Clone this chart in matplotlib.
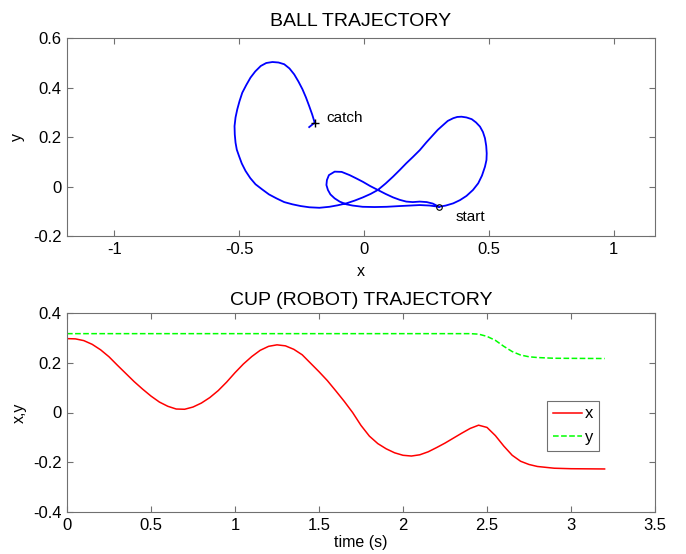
import matplotlib
matplotlib.use('Agg')
import matplotlib.pyplot as plt
from matplotlib.ticker import FuncFormatter

plt.rcParams['font.family'] = ['Liberation Sans', 'DejaVu Sans']
plt.rcParams['axes.unicode_minus'] = False

## --- Data
# Ball path (x, y), from start to catch
ball_x = [0.300, 0.263, 0.223, 0.183, 0.143, 0.090, 0.042, -0.006, -0.046, -0.071,
          -0.098, -0.118, -0.135, -0.145, -0.151, -0.149, -0.141, -0.118, -0.090, -0.058,
          -0.030, -0.005, 0.024, 0.055, 0.086, 0.116, 0.143, 0.169, 0.195, 0.223,
          0.251, 0.275, 0.300, 0.327, 0.357, 0.384, 0.410, 0.436, 0.457, 0.472,
          0.484, 0.490, 0.491, 0.489, 0.484, 0.476, 0.464, 0.448, 0.431, 0.410,
          0.390, 0.373, 0.357, 0.335, 0.316, 0.295, 0.276, 0.249, 0.223, 0.195,
          0.169, 0.143, 0.116, 0.086, 0.055, 0.026, -0.005, -0.038, -0.071, -0.106,
          -0.139, -0.179, -0.219, -0.254, -0.287, -0.320, -0.351, -0.381, -0.408, -0.435,
          -0.456, -0.475, -0.490, -0.501, -0.510, -0.515, -0.518, -0.519, -0.515, -0.508,
          -0.499, -0.488, -0.472, -0.455, -0.436, -0.414, -0.392, -0.367, -0.343, -0.320,
          -0.299, -0.280, -0.263, -0.247, -0.233, -0.220, -0.208, -0.198, -0.220]
ball_y = [-0.082, -0.077, -0.075, -0.077, -0.079, -0.082, -0.083, -0.082, -0.077, -0.072,
          -0.061, -0.048, -0.032, -0.014, 0.006, 0.026, 0.046, 0.060, 0.059, 0.046,
          0.032, 0.019, 0.002, -0.014, -0.030, -0.044, -0.054, -0.061, -0.063, -0.061,
          -0.063, -0.069, -0.082, -0.077, -0.068, -0.055, -0.038, -0.014, 0.013, 0.044,
          0.080, 0.107, 0.134, 0.164, 0.195, 0.220, 0.242, 0.259, 0.272, 0.279,
          0.282, 0.281, 0.276, 0.265, 0.248, 0.229, 0.208, 0.178, 0.147, 0.119,
          0.094, 0.067, 0.040, 0.012, -0.014, -0.030, -0.044, -0.057, -0.068, -0.076,
          -0.082, -0.086, -0.084, -0.079, -0.072, -0.063, -0.048, -0.032, -0.012, 0.009,
          0.034, 0.063, 0.093, 0.123, 0.149, 0.177, 0.210, 0.244, 0.279, 0.312,
          0.345, 0.379, 0.410, 0.440, 0.465, 0.487, 0.499, 0.503, 0.501, 0.494,
          0.477, 0.453, 0.424, 0.393, 0.360, 0.325, 0.291, 0.258, 0.240]
start_pt = (0.300, -0.082)
catch_pt = (-0.198, 0.258)

# Cup (robot) x over time
cup_t_x = [0.0, 0.05, 0.1, 0.15, 0.2, 0.25, 0.3, 0.35, 0.4, 0.45,
           0.5, 0.55, 0.6, 0.65, 0.7, 0.75, 0.8, 0.85, 0.9, 0.95,
           1.0, 1.05, 1.1, 1.15, 1.2, 1.25, 1.3, 1.35, 1.4, 1.45,
           1.5, 1.55, 1.6, 1.65, 1.7, 1.75, 1.8, 1.85, 1.9, 1.95,
           2.0, 2.05, 2.1, 2.15, 2.2, 2.25, 2.3, 2.35, 2.4, 2.45,
           2.5, 2.55, 2.6, 2.65, 2.7, 2.75, 2.8, 2.9, 3.0, 3.2]
cup_x = [0.297, 0.296, 0.289, 0.274, 0.252, 0.224, 0.19, 0.157, 0.124, 0.094,
         0.066, 0.042, 0.025, 0.014, 0.013, 0.022, 0.038, 0.06, 0.088, 0.122,
         0.16, 0.195, 0.225, 0.25, 0.266, 0.272, 0.268, 0.254, 0.232, 0.198,
         0.164, 0.128, 0.087, 0.045, 0.0, -0.052, -0.095, -0.125, -0.146, -0.162,
         -0.172, -0.175, -0.17, -0.158, -0.141, -0.123, -0.103, -0.083, -0.064, -0.051,
         -0.06, -0.093, -0.135, -0.172, -0.196, -0.209, -0.217, -0.224, -0.226, -0.227]
# Cup (robot) y over time
cup_t_y = [0.0, 2.4, 2.45, 2.5, 2.55, 2.6, 2.65, 2.7, 2.75, 2.8, 2.9, 3.2]
cup_y = [0.317, 0.317, 0.315, 0.306, 0.29, 0.266, 0.245, 0.231, 0.224, 0.221, 0.218, 0.217]

## --- Plotting
frame_col = '#707070'
fs = 12

def style_axes(ax):
    for sp in ax.spines.values():
        sp.set_color(frame_col)
        sp.set_linewidth(0.8)
    ax.tick_params(direction='in', top=True, right=True, length=4, width=0.8,
                   color=frame_col, labelsize=fs, pad=4)
    ax.xaxis.set_major_formatter(FuncFormatter(lambda v, p: '%g' % round(v, 3)))
    ax.yaxis.set_major_formatter(FuncFormatter(lambda v, p: '%g' % round(v, 3)))

fig = plt.figure(figsize=(6.86, 5.54), dpi=100)
ax1 = fig.add_axes([67 / 686, 1 - 236 / 554, 588 / 686, 198 / 554])
ax2 = fig.add_axes([67 / 686, 1 - 512 / 554, 588 / 686, 199 / 554])

# Top: ball trajectory
ax1.plot(ball_x, ball_y, color='#0000ff', lw=1.3)
ax1.plot(*start_pt, marker='o', ms=4, mfc='none', mec='k', mew=0.8)
ax1.plot(*catch_pt, marker='+', ms=6, color='k', mew=1.0)
ax1.text(catch_pt[0] + 0.045, catch_pt[1] + 0.02, 'catch', fontsize=fs - 1, va='center')
ax1.text(start_pt[0] + 0.065, start_pt[1] - 0.04, 'start', fontsize=fs - 1, va='center')
ax1.set_xlim(-1.19, 1.165)
ax1.set_ylim(-0.2, 0.6)
ax1.set_xticks([-1, -0.5, 0, 0.5, 1])
ax1.set_yticks([-0.2, 0, 0.2, 0.4, 0.6])
ax1.set_xlabel('x', fontsize=fs - 0.5, labelpad=5)
ax1.set_ylabel('y', fontsize=fs - 0.5, labelpad=6)
ax1.set_title('BALL TRAJECTORY', fontsize=14, pad=9)
style_axes(ax1)

# Bottom: cup trajectory
ax2.plot(cup_t_x, cup_x, color='#ff0000', lw=1.1, label='x')
ax2.plot(cup_t_y, cup_y, color='#00ff00', lw=1.1, ls='--', label='y')
ax2.set_xlim(0, 3.5)
ax2.set_ylim(-0.4, 0.4)
ax2.set_xticks([0, 0.5, 1, 1.5, 2, 2.5, 3, 3.5])
ax2.set_yticks([-0.4, -0.2, 0, 0.2, 0.4])
ax2.set_xlabel('time (s)', fontsize=fs - 0.5, labelpad=2)
ax2.set_ylabel('x,y', fontsize=fs - 0.5, labelpad=4)
ax2.set_title('CUP (ROBOT) TRAJECTORY', fontsize=14, pad=6)
style_axes(ax2)
leg = ax2.legend(loc='upper left', bbox_to_anchor=(0.817, 0.56), fontsize=fs,
                 fancybox=False, framealpha=1, edgecolor=frame_col,
                 handlelength=1.7, handletextpad=0.2, borderpad=0.35,
                 labelspacing=0.5, borderaxespad=0)
leg.get_frame().set_linewidth(0.8)

plt.savefig('out.png', dpi=100)
plt.close()
